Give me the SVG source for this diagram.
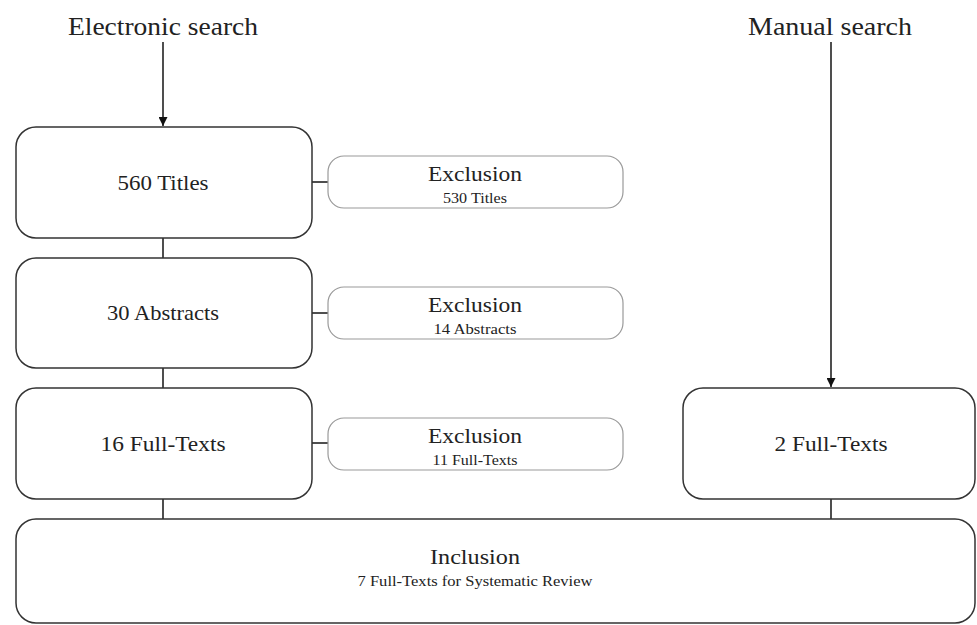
<svg xmlns="http://www.w3.org/2000/svg" width="977" height="625" viewBox="0 0 977 625">
<style>
.main{fill:#fff;stroke:#333;stroke-width:1.5}
.exc{fill:#fff;stroke:#9a9a9a;stroke-width:1.2}
.t{font-family:"Liberation Serif",serif;fill:#222;text-anchor:middle}
.big{font-size:25px}
.mid{font-size:22px}
.sm{font-size:15px}
.c{stroke:#222;stroke-width:1.6;fill:none}
</style>
<defs>
<marker id="ah" viewBox="0 0 10 10" refX="10" refY="5" markerWidth="9" markerHeight="9" markerUnits="userSpaceOnUse" orient="auto">
<path d="M0,0 L10,5 L0,10 z" fill="#111"/>
</marker>
</defs>
<rect width="977" height="625" fill="#fff"/>
<g id="connectors">
<line class="c" x1="163" y1="42" x2="163" y2="126" marker-end="url(#ah)"/>
<line class="c" x1="831" y1="42" x2="831" y2="387" marker-end="url(#ah)"/>
<line class="c" x1="163" y1="238" x2="163" y2="258"/>
<line class="c" x1="163" y1="368" x2="163" y2="388"/>
<line class="c" x1="163" y1="499" x2="163" y2="519"/>
<line class="c" x1="831" y1="499" x2="831" y2="519"/>
<line class="c" x1="312" y1="182" x2="328" y2="182"/>
<line class="c" x1="312" y1="313" x2="328" y2="313"/>
<line class="c" x1="312" y1="443" x2="328" y2="443"/>
</g>
<g id="electronic"><text class="t big" x="163" y="35" textLength="190" lengthAdjust="spacingAndGlyphs">Electronic search</text></g>
<g id="manual"><text class="t big" x="830" y="35" textLength="164" lengthAdjust="spacingAndGlyphs">Manual search</text></g>
<g id="titles"><rect class="main" x="16" y="127" width="296" height="111" rx="20"/><text class="t mid" x="163" y="190" textLength="91" lengthAdjust="spacingAndGlyphs">560 Titles</text></g>
<g id="abstracts"><rect class="main" x="16" y="258" width="296" height="110" rx="20"/><text class="t mid" x="163" y="320" textLength="112" lengthAdjust="spacingAndGlyphs">30 Abstracts</text></g>
<g id="fulltexts"><rect class="main" x="16" y="388" width="296" height="111" rx="20"/><text class="t mid" x="163" y="451" textLength="125" lengthAdjust="spacingAndGlyphs">16 Full-Texts</text></g>
<g id="manualft"><rect class="main" x="683" y="388" width="292" height="111" rx="20"/><text class="t mid" x="831" y="451" textLength="113" lengthAdjust="spacingAndGlyphs">2 Full-Texts</text></g>
<g id="exc1"><rect class="exc" x="328" y="156" width="295" height="52" rx="16"/><text class="t mid" x="475" y="181" textLength="94" lengthAdjust="spacingAndGlyphs">Exclusion</text><text class="t sm" x="475" y="203" textLength="64" lengthAdjust="spacingAndGlyphs">530 Titles</text></g>
<g id="exc2"><rect class="exc" x="328" y="287" width="295" height="52" rx="16"/><text class="t mid" x="475" y="312" textLength="94" lengthAdjust="spacingAndGlyphs">Exclusion</text><text class="t sm" x="475" y="334" textLength="83" lengthAdjust="spacingAndGlyphs">14 Abstracts</text></g>
<g id="exc3"><rect class="exc" x="328" y="418" width="295" height="52" rx="16"/><text class="t mid" x="475" y="443" textLength="94" lengthAdjust="spacingAndGlyphs">Exclusion</text><text class="t sm" x="475" y="465" textLength="85" lengthAdjust="spacingAndGlyphs">11 Full-Texts</text></g>
<g id="inclusion"><rect class="main" x="16" y="519" width="959" height="104" rx="20"/><text class="t mid" x="475" y="564" textLength="90" lengthAdjust="spacingAndGlyphs">Inclusion</text><text class="t sm" x="475" y="586" textLength="235" lengthAdjust="spacingAndGlyphs">7 Full-Texts for Systematic Review</text></g>
</svg>
